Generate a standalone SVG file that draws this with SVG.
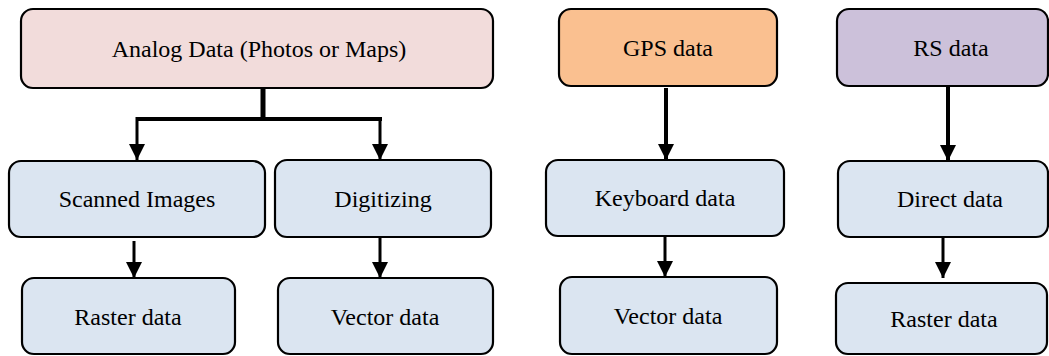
<svg xmlns="http://www.w3.org/2000/svg" width="1049" height="356" viewBox="0 0 1049 356">
<style>
.box{stroke:#000;stroke-width:2.2}
.pink{fill:#f2dcdb}.orange{fill:#fac090}.purple{fill:#ccc1da}.blue{fill:#dbe5f1}
text{font-family:"Liberation Serif","Times New Roman",serif;font-size:24px;fill:#000;text-anchor:middle}
.c{stroke:#000;fill:none}
</style>
<defs>
<marker id="ah" markerUnits="userSpaceOnUse" markerWidth="16" markerHeight="16" viewBox="0 0 16 16" refX="16" refY="8" orient="auto">
<path d="M0,0 L16,8 L0,16 Z" fill="#000"/>
</marker>
</defs>
<rect width="1049" height="356" fill="#fff"/>
<g id="connectors">
<line class="c" x1="263" y1="88" x2="263" y2="120" stroke-width="5"/>
<line class="c" x1="136" y1="119" x2="382" y2="119" stroke-width="4"/>
<line class="c" x1="137" y1="117" x2="137" y2="160" stroke-width="3" marker-end="url(#ah)"/>
<line class="c" x1="380" y1="117" x2="380" y2="160" stroke-width="3" marker-end="url(#ah)"/>
<line class="c" x1="134" y1="241" x2="134" y2="278" stroke-width="3" marker-end="url(#ah)"/>
<line class="c" x1="380" y1="238" x2="380" y2="278" stroke-width="3" marker-end="url(#ah)"/>
<line class="c" x1="666" y1="88" x2="666" y2="160" stroke-width="4" marker-end="url(#ah)"/>
<line class="c" x1="665" y1="237" x2="665" y2="277" stroke-width="3" marker-end="url(#ah)"/>
<line class="c" x1="948" y1="87" x2="948" y2="161" stroke-width="4" marker-end="url(#ah)"/>
<line class="c" x1="943" y1="238" x2="943" y2="278" stroke-width="3" marker-end="url(#ah)"/>
</g>
<g id="analog"><rect class="box pink" x="21" y="9" width="472" height="79" rx="12"/><text x="259" y="57">Analog Data (Photos or Maps)</text></g>
<g id="scanned"><rect class="box blue" x="9" y="161" width="256" height="76" rx="12"/><text x="137" y="207">Scanned Images</text></g>
<g id="digitizing"><rect class="box blue" x="275" y="160" width="216" height="77" rx="12"/><text x="383" y="207">Digitizing</text></g>
<g id="raster1"><rect class="box blue" x="22" y="278" width="213" height="76" rx="12"/><text x="128" y="325">Raster data</text></g>
<g id="vector1"><rect class="box blue" x="278" y="278" width="215" height="76" rx="12"/><text x="385" y="325">Vector data</text></g>
<g id="gps"><rect class="box orange" x="559" y="9" width="218" height="77" rx="12"/><text x="668" y="56">GPS data</text></g>
<g id="keyboard"><rect class="box blue" x="546" y="160" width="238" height="76" rx="12"/><text x="665" y="206">Keyboard data</text></g>
<g id="vector2"><rect class="box blue" x="560" y="277" width="217" height="77" rx="12"/><text x="668" y="324">Vector data</text></g>
<g id="rs"><rect class="box purple" x="837" y="9" width="211" height="77" rx="12"/><text x="951" y="56">RS data</text></g>
<g id="direct"><rect class="box blue" x="838" y="161" width="210" height="76" rx="12"/><text x="950" y="207">Direct data</text></g>
<g id="raster2"><rect class="box blue" x="836" y="283" width="211" height="71" rx="12"/><text x="944" y="327">Raster data</text></g>
</svg>
